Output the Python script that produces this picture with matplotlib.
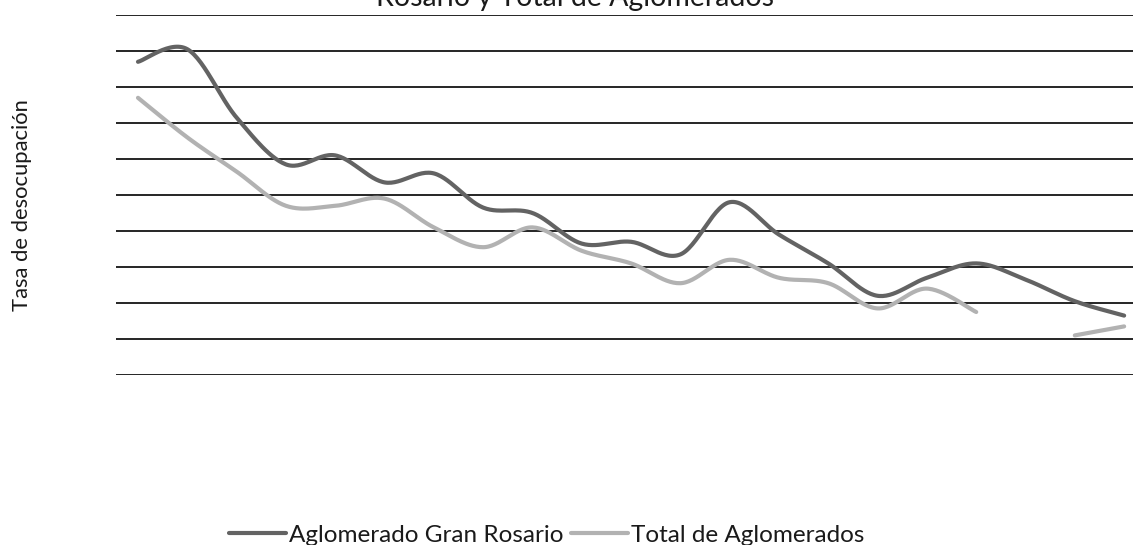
import numpy as np
import matplotlib
matplotlib.use("Agg")
import matplotlib.pyplot as plt

# values (no tick labels, scale is arbitrary: 0-20)
periods = list(range(21))
rosario = [17.4, 18.1, 14.3, 11.7, 12.2, 10.7, 11.2, 9.3, 9.0, 7.3, 7.4,
           6.7, 9.6, 7.8, 6.2, 4.4, 5.4, 6.2, 5.3, 4.1, 3.3]
total = [15.4, 13.2, 11.3, 9.4, 9.4, 9.8, 8.2, 7.1, 8.2, 6.9, 6.2,
         5.1, 6.4, 5.4, 5.1, 3.7, 4.8, 3.5, np.nan, 2.2, 2.7]
grid_levels = list(range(0, 21, 2))

title = "Rosario y Total de Aglomerados"
ylabel = "Tasa de desocupación"
names = ["Aglomerado Gran Rosario", "Total de Aglomerados"]
colors = ["#636363", "#b2b2b2"]

plt.rcParams['font.family'] = ['Lato', 'DejaVu Sans']


def smooth(x, y, n=30):
    # excel-like smoothed line: bezier segments with catmull-rom control points
    x = np.asarray(x, float)
    y = np.asarray(y, float)
    xs, ys = [], []
    ok = ~np.isnan(y)
    i = 0
    while i < len(y):
        if not ok[i]:
            xs.append(np.nan); ys.append(np.nan)
            i += 1
            continue
        j = i
        while j < len(y) and ok[j]:
            j += 1
        px, py = x[i:j], y[i:j]
        m = len(px)
        for k in range(m - 1):
            a = max(k - 1, 0); d = min(k + 2, m - 1)
            c1x = px[k] + (px[k + 1] - px[a]) / 6
            c1y = py[k] + (py[k + 1] - py[a]) / 6
            c2x = px[k + 1] - (px[d] - px[k]) / 6
            c2y = py[k + 1] - (py[d] - py[k]) / 6
            t = np.linspace(0, 1, n)
            b0, b1, b2, b3 = (1 - t) ** 3, 3 * t * (1 - t) ** 2, 3 * t ** 2 * (1 - t), t ** 3
            xs.extend(b0 * px[k] + b1 * c1x + b2 * c2x + b3 * px[k + 1])
            ys.extend(b0 * py[k] + b1 * c1y + b2 * c2y + b3 * py[k + 1])
        xs.append(np.nan); ys.append(np.nan)
        i = j
    return xs, ys


fig = plt.figure(figsize=(11.33, 5.45), dpi=100)
ax = fig.add_axes([116 / 1133, 170 / 545, 1017 / 1133, 360 / 545])

for vals, name, col in zip([rosario, total], names, colors):
    sx, sy = smooth(periods, vals)
    ax.plot(sx, sy, color=col, lw=3.0, label=name, solid_capstyle='round', zorder=3)

ax.set_xlim(-0.446, 20.18)
ax.set_ylim(0, 20)
ax.set_yticks(grid_levels)
ax.set_xticks([])
ax.yaxis.grid(True, color='black', lw=1.2)
ax.tick_params(length=0, labelleft=False)
for s in ax.spines.values():
    s.set_visible(False)

fig.text(575 / 1133, 1 - 6 / 545, title, ha='center', va='baseline', fontsize=20.5, color='#1a1a1a')
fig.text(22 / 1133, 1 - 205 / 545, ylabel, rotation=90, ha='center', va='center', fontsize=15.8, color='#1a1a1a')

fig.legend(loc='center', bbox_to_anchor=(547 / 1133, 1 - 535 / 545), ncol=2, frameon=False,
           fontsize=17.5, handlelength=2.35, handletextpad=0.12, columnspacing=0.3,
           borderpad=0, labelcolor='#1a1a1a')

fig.savefig("out.png", dpi=100)
